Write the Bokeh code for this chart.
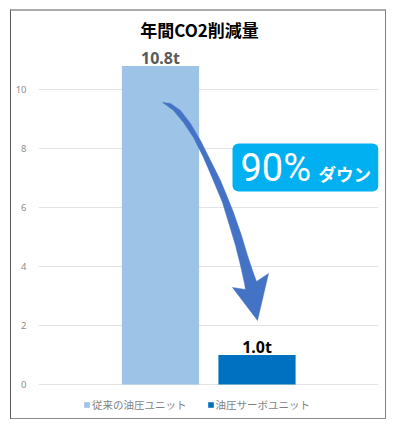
from bokeh.plotting import figure
from bokeh.models import ColumnDataSource, BoxAnnotation, FixedTicker
from bokeh.core.properties import value
from bokeh.embed import file_html
from bokeh.resources import INLINE

# ---- data ----
title = "年間CO2削減量"
series = ["従来の油圧ユニット", "油圧サーボユニット"]
values = [10.8, 1.0]
value_labels = ["10.8t", "1.0t"]
colors = ["#9DC3E6", "#0070C0"]
yticks = [0, 2, 4, 6, 8, 10]
callout_big = "90%"
callout_small = "ダウン"

JP = "Noto Sans CJK JP"

# ---- geometry (page pixels) ----
OX, OY = 11, 11            # canvas origin on the page (inside the CSS border)
CW, CH = 376, 410          # canvas size
FL, FR, FT, FB = 38, 378, 21, 421
PX_PER_X = 96.5
PX_PER_Y = 29.5
X0_PX = 160.0   # page pixel of x=0
Y0_PX = 384.0   # page pixel of y=0

def px2x(px):
    return (px - X0_PX) / PX_PER_X

def py2y(py):
    return (Y0_PX - py) / PX_PER_Y

p = figure(width=CW, height=CH, output_backend="svg", toolbar_location=None,
           x_range=(px2x(FL), px2x(FR)), y_range=(py2y(FB), py2y(FT)),
           min_border_left=FL - OX, min_border_right=OX + CW - FR,
           min_border_top=FT - OY, min_border_bottom=OY + CH - FB,
           tools="", margin=(9, 0, 0, 10),
           styles={"border-left": "1px solid #595959",
                   "border-right": "1px solid #7f7f7f",
                   "border-bottom": "1px solid #8c8c8c",
                   "border-top": "2px solid #ababab"})
p.outline_line_color = None
p.background_fill_color = "white"
p.border_fill_color = "white"

p.xaxis.visible = False
p.xgrid.visible = False
p.yaxis.ticker = FixedTicker(ticks=yticks)
p.yaxis.axis_line_color = None
p.yaxis.major_tick_line_color = None
p.yaxis.minor_tick_line_color = None
p.yaxis.major_tick_out = 0
p.yaxis.major_tick_in = 0
p.yaxis.minor_tick_out = 0
p.yaxis.minor_tick_in = 0
p.yaxis.major_label_text_font = "Noto Sans"
p.yaxis.major_label_text_font_size = "9.5px"
p.yaxis.major_label_text_color = "#8c8c8c"
p.yaxis.major_label_standoff = 12
p.ygrid.ticker = FixedTicker(ticks=yticks)
p.ygrid.grid_line_color = "#e3e3e3"
p.ygrid.grid_line_width = 1

# bars
src = ColumnDataSource(dict(x=[0, 1], top=values, color=colors, name=series))
p.vbar(x="x", top="top", width=0.8, fill_color="color", line_color=None,
       source=src, legend_field="name")

# value labels
p.text(x=[0], y=[values[0]], text=[value_labels[0]], text_align="center",
       text_baseline="bottom", y_offset=3, text_font=value("Noto Sans"),
       text_font_style="bold", text_font_size="16px", text_color="#595959")
p.text(x=[1], y=[values[1]], text=[value_labels[1]], text_align="center",
       text_baseline="bottom", y_offset=3, text_font=value("Noto Sans"),
       text_font_style="bold", text_font_size="16px", text_color="#000000")

# title
p.text(x=[px2x(199)], y=[py2y(29)], text=[title], text_align="center",
       text_baseline="middle", text_font=value(JP), text_font_style="bold",
       text_font_size="17px", text_color="#000000")

# curved arrow (decoration)
right_edge = [(162, 102), (170, 103), (180, 110), (190, 123), (200, 140),
              (210, 160), (220, 180), (227, 197), (233, 212), (241, 235),
              (247, 255), (252, 270), (256, 281)]
head = [(268, 273), (257, 320), (232, 287), (245, 289)]
left_edge = [(244, 283), (240, 265), (235, 245), (229, 225), (222, 202),
             (212, 178), (203, 157), (193, 137), (183, 122), (173, 110),
             (165, 104)]
pts = right_edge + head + left_edge
p.patch(x=[px2x(a) for a, b in pts], y=[py2y(b) for a, b in pts],
        fill_color="#4472C4", line_color="#4472C4", line_width=0.5)

# callout box
callout = BoxAnnotation(left=px2x(232), right=px2x(378), top=py2y(143),
                        bottom=py2y(191), fill_color="#00B0F0", fill_alpha=1,
                        line_color=None, border_radius=6, level="annotation")
p.add_layout(callout)
p.text(x=[px2x(240)], y=[py2y(167)], text=[callout_big], text_align="left",
       text_baseline="middle", text_font=value("Roboto"),
       text_font_size="38px", text_color="white", level="overlay")
p.text(x=[px2x(318)], y=[py2y(173)], text=[callout_small], text_align="left",
       text_baseline="middle", text_font=value(JP), text_font_style="bold",
       text_font_size="17.5px", text_color="white", level="overlay")

# legend
lg = p.legend[0]
lg.orientation = "horizontal"
lg.location = (83 - FL, FB - 412)
lg.padding = 0
lg.margin = 0
lg.spacing = 20
lg.border_line_color = None
lg.background_fill_alpha = 0
lg.glyph_width = 7
lg.glyph_height = 7
lg.label_standoff = 2
lg.label_height = 12
lg.label_text_font = JP
lg.label_text_font_size = "10.5px"
lg.label_text_color = "#7f7f7f"

open("out.html", "w").write(file_html(p, INLINE))
